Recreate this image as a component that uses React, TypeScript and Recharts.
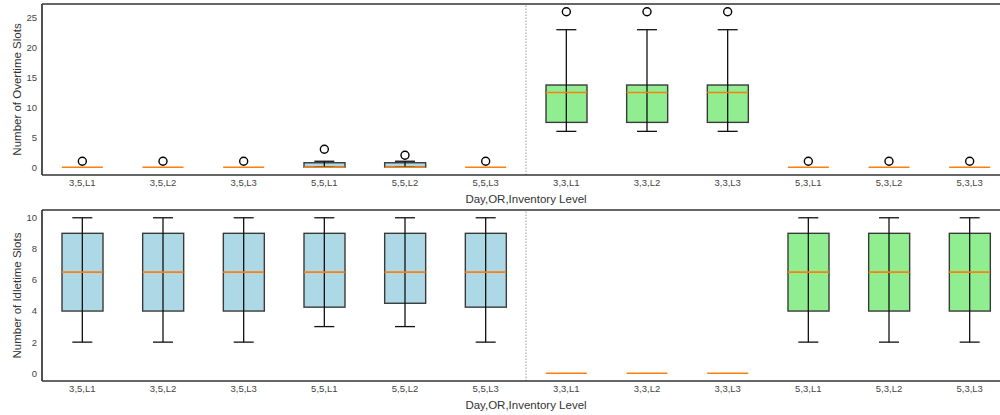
import React from 'react';
import {
  ComposedChart,
  Bar,
  Scatter,
  ErrorBar,
  Cell,
  XAxis,
  YAxis,
  ReferenceLine,
} from 'recharts';

// categories (Day,OR,Inventory Level)
const labels = [
  '3,5,L1', '3,5,L2', '3,5,L3', '5,5,L1', '5,5,L2', '5,5,L3',
  '3,3,L1', '3,3,L2', '3,3,L3', '5,3,L1', '5,3,L2', '5,3,L3',
];
const positions = [1, 2, 3, 4, 5, 6, 7, 8, 9, 10, 11, 12];
const groupColors = [
  '#ADD8E6', '#ADD8E6', '#ADD8E6', '#ADD8E6', '#ADD8E6', '#ADD8E6',
  '#90EE90', '#90EE90', '#90EE90', '#90EE90', '#90EE90', '#90EE90',
];

// overtime slots
const otLow = [0, 0, 0, 0, 0, 0, 6, 6, 6, 0, 0, 0];
const otQ1 = [0, 0, 0, 0, 0, 0, 7.5, 7.5, 7.5, 0, 0, 0];
const otMed = [0, 0, 0, 0, 0, 0, 12.5, 12.5, 12.5, 0, 0, 0];
const otQ3 = [0, 0, 0, 0.75, 0.75, 0, 13.75, 13.75, 13.75, 0, 0, 0];
const otHigh = [0, 0, 0, 1, 1, 0, 23, 23, 23, 0, 0, 0];
const otOut = [1, 1, 1, 3, 2, 1, 26, 26, 26, 1, 1, 1];
const otTicks = [0, 5, 10, 15, 20, 25];

// idletime slots
const itLow = [2, 2, 2, 3, 3, 2, 0, 0, 0, 2, 2, 2];
const itQ1 = [4, 4, 4, 4.25, 4.5, 4.25, 0, 0, 0, 4, 4, 4];
const itMed = [6.5, 6.5, 6.5, 6.5, 6.5, 6.5, 0, 0, 0, 6.5, 6.5, 6.5];
const itQ3 = [9, 9, 9, 9, 9, 9, 0, 0, 0, 9, 9, 9];
const itHigh = [10, 10, 10, 10, 10, 10, 0, 0, 0, 10, 10, 10];
const itOut = [null, null, null, null, null, null, null, null, null, null, null, null];
const itTicks = [0, 2, 4, 6, 8, 10];

const FONT = '"Liberation Sans", Arial, sans-serif';
const BOX_W = 41;
const SPINE = '#333333';

function buildRows(low, q1, med, q3, high, out) {
  return positions.map((pos, i) => {
    const lo = med[i] - low[i];
    const hi = high[i] - med[i];
    return {
      pos,
      name: labels[i],
      box: [q1[i], q3[i]],
      med: med[i],
      // no whisker at all when every value collapses onto the median
      err: lo === 0 && hi === 0 ? null : [lo, hi],
      out: out[i],
    };
  });
}

const BoxShape = (props: any) => {
  const { x, y, width, height, fill } = props;
  const top = Math.min(y, y + height);
  const h = Math.abs(height);
  // a box with no spread is just the median line in the reference
  if (!h || h < 0.5) return <g />;
  return (
    <rect x={x} y={top} width={width} height={h} fill={fill} stroke="#3a3a3a" strokeWidth={1.4} />
  );
};

const MedianShape = (props: any) => {
  const { cx, cy } = props;
  if (cx == null || cy == null || isNaN(cy)) return <g />;
  return (
    <line x1={cx - BOX_W / 2} x2={cx + BOX_W / 2} y1={cy} y2={cy} stroke="#ff7f0e" strokeWidth={1.7} />
  );
};

const OutlierShape = (props: any) => {
  const { cx, cy, payload } = props;
  if (!payload || payload.out == null || isNaN(cy)) return <g />;
  return <circle cx={cx} cy={cy} r={4} fill="none" stroke="#000" strokeWidth={1.4} />;
};

const Hidden = () => <g />;

function BoxPanel({ rows, domain, ticks, ylabel, height, bottom, labelOffset }: any) {
  const whiskerRows = rows.filter((r) => r.err != null);
  return (
    <ComposedChart
      width={1010}
      height={height}
      data={rows}
      margin={{ top: 4, right: 0, left: 0, bottom: 0 }}
    >
      <XAxis
        type="number"
        dataKey="pos"
        domain={[0.5, 12.5]}
        allowDataOverflow
        ticks={positions}
        tickFormatter={(v) => labels[v - 1]}
        interval={0}
        height={bottom}
        tickLine={false}
        tickSize={0}
        tickMargin={4}
        axisLine={{ stroke: SPINE, strokeWidth: 1.7 }}
        tick={{ fill: '#444', fontSize: 9.5, fontFamily: FONT }}
        label={{
          value: 'Day,OR,Inventory Level',
          position: 'insideBottom',
          offset: labelOffset,
          fill: '#333',
          fontSize: 11.5,
          fontFamily: FONT,
        }}
      />
      <YAxis
        type="number"
        domain={domain}
        allowDataOverflow
        ticks={ticks}
        width={42}
        tickLine={false}
        tickSize={0}
        tickMargin={5}
        axisLine={{ stroke: SPINE, strokeWidth: 1.7 }}
        tick={{ fill: '#444', fontSize: 9.5, fontFamily: FONT }}
        label={{
          value: ylabel,
          angle: -90,
          position: 'insideLeft',
          offset: 17,
          fill: '#333',
          fontSize: 11.5,
          fontFamily: FONT,
          style: { textAnchor: 'middle' },
        }}
      />
      <ReferenceLine y={domain[1]} stroke={SPINE} strokeWidth={1.7} />
      <ReferenceLine x={6.5} stroke="#999" strokeWidth={1} strokeDasharray="1.5 1.5" />
      <Scatter data={whiskerRows} dataKey="med" shape={Hidden} isAnimationActive={false}>
        <ErrorBar dataKey="err" direction="y" width={10} stroke="#111" strokeWidth={1.3} />
      </Scatter>
      <Bar dataKey="box" barSize={BOX_W} shape={BoxShape} isAnimationActive={false}>
        {rows.map((r, i) => (
          <Cell key={r.name} fill={groupColors[i]} />
        ))}
      </Bar>
      <Scatter dataKey="med" shape={MedianShape} isAnimationActive={false} />
      <Scatter dataKey="out" shape={OutlierShape} isAnimationActive={false} />
    </ComposedChart>
  );
}

export default function App() {
  const otRows = buildRows(otLow, otQ1, otMed, otQ3, otHigh, otOut);
  const itRows = buildRows(itLow, itQ1, itMed, itQ3, itHigh, itOut);
  return (
    <div
      style={{
        position: 'absolute',
        left: 0,
        top: 0,
        width: 1000,
        height: 415,
        overflow: 'hidden',
        background: '#fff',
        fontFamily: FONT,
      }}
    >
      <BoxPanel
        rows={otRows}
        domain={[-1.3, 27.3]}
        ticks={otTicks}
        ylabel="Number of Overtime Slots"
        height={206}
        bottom={31}
        labelOffset={3}
      />
      <BoxPanel
        rows={itRows}
        domain={[-0.5, 10.5]}
        ticks={itTicks}
        ylabel="Number of Idletime Slots"
        height={209}
        bottom={34}
        labelOffset={6}
      />
    </div>
  );
}
